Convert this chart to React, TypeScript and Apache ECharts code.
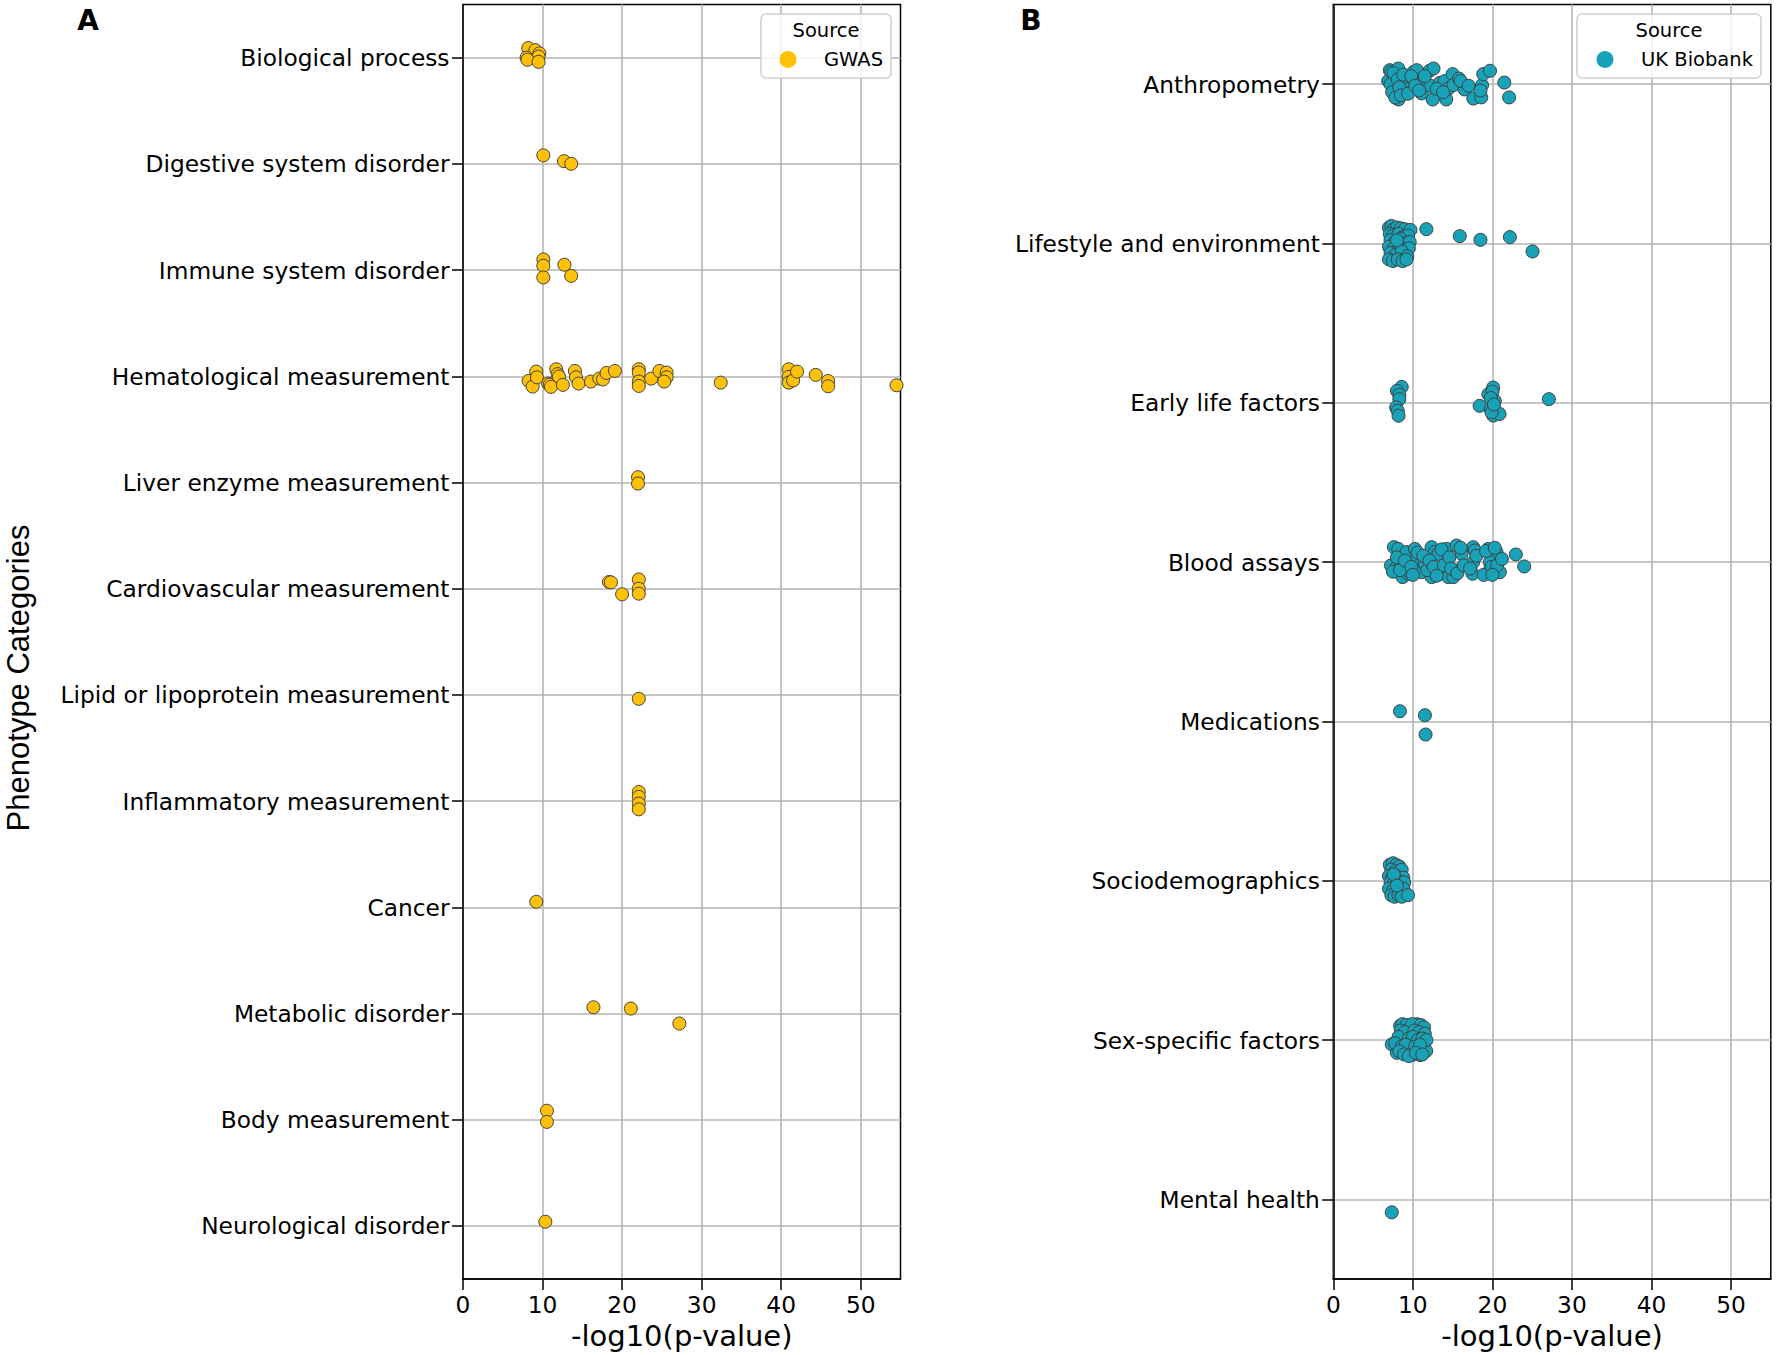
import React, { useEffect, useRef } from "react";
import * as echarts from "echarts";

// ---------- Data ----------
const xTicks = [0, 10, 20, 30, 40, 50];
const gwasName = "GWAS";
const ukbName = "UK Biobank";

const gwasCategories = [
  "Biological process",
  "Digestive system disorder",
  "Immune system disorder",
  "Hematological measurement",
  "Liver enzyme measurement",
  "Cardiovascular measurement",
  "Lipid or lipoprotein measurement",
  "Inflammatory measurement",
  "Cancer",
  "Metabolic disorder",
  "Body measurement",
  "Neurological disorder",
];

// [ -log10(p), vertical jitter within category ]
const biologicalProcess = [[8.2, -0.09], [9.1, -0.07], [9.6, -0.04], [9.5, -0.01], [8.0, 0.0], [8.1, 0.02], [9.5, 0.04]];
const digestiveSystem = [[10.1, -0.08], [12.7, -0.025], [13.6, 0.0]];
const immuneSystem = [[10.1, -0.1], [10.1, -0.04], [10.1, 0.07], [12.75, -0.05], [13.6, 0.055]];
const hematological = [
  [8.25, 0.044], [9.21, -0.044], [8.75, 0.097], [9.3, 0.01], [10.7, 0.069], [10.9, 0.08], [11.06, 0.1],
  [11.72, -0.066], [11.9, -0.02], [12.06, 0.003], [12.56, 0.081], [14.07, -0.05], [14.2, 0.01], [14.53, 0.069],
  [16.08, 0.05], [17.13, 0.022], [17.6, 0.03], [18.05, -0.031], [19.1, -0.05], [22.1, -0.066], [22.1, -0.035],
  [22.1, 0.05], [22.1, 0.091], [23.66, 0.022], [24.7, -0.05], [25.6, -0.035], [25.6, 0.01], [25.3, 0.05],
  [32.4, 0.06], [40.95, -0.066], [40.95, 0.006], [40.95, 0.06], [41.5, 0.04], [42.0, -0.044], [44.35, -0.013],
  [45.9, 0.044], [45.9, 0.094], [54.5, 0.085],
];
const liverEnzyme = [[22.0, -0.05], [22.0, 0.01]];
const cardiovascular = [[18.34, -0.063], [18.6, -0.06], [20.0, 0.053], [22.1, -0.087], [22.1, 0.0], [22.1, 0.047]];
const lipid = [[22.1, 0.037]];
const inflammatory = [[22.1, -0.086], [22.1, -0.04], [22.1, 0.023], [22.1, 0.077]];
const cancer = [[9.21, -0.052]];
const metabolic = [[16.4, -0.059], [21.1, -0.047], [27.2, 0.094]];
const bodyMeasurement = [[10.55, -0.085], [10.55, 0.02]];
const neurological = [[10.35, -0.04]];

const gwasPoints = [
  biologicalProcess, digestiveSystem, immuneSystem, hematological, liverEnzyme, cardiovascular,
  lipid, inflammatory, cancer, metabolic, bodyMeasurement, neurological,
];

const ukbCategories = [
  "Anthropometry",
  "Lifestyle and environment",
  "Early life factors",
  "Blood assays",
  "Medications",
  "Sociodemographics",
  "Sex-specific factors",
  "Mental health",
];

const anthropometry = [
  [6.9, -0.02], [7.1, -0.088], [7.3, -0.077], [7.5, 0.03], [7.75, -0.057], [7.96, -0.046], [8.0, 0.06],
  [8.17, -0.098], [8.2, 0.096], [8.4, -0.025], [8.6, -0.042], [9.0, 0.038], [9.2, -0.02], [9.6, 0.027],
  [10.1, -0.077], [10.5, -0.088], [11.1, -0.01], [11.1, 0.058], [12.1, -0.084], [12.2, 0.01], [12.5, 0.096],
  [12.6, -0.098], [13.4, -0.008], [14.0, -0.019], [14.2, 0.096], [14.5, 0.027], [15.0, -0.063], [15.1, 0.006],
  [15.8, -0.035], [16.5, 0.033], [17.6, 0.09], [18.6, 0.083], [18.7, 0.006], [18.85, -0.063], [19.7, -0.084],
  [21.5, -0.01], [22.1, 0.083], [7.2, 0.0], [7.4, 0.05], [7.6, -0.07], [7.8, 0.085], [8.1, -0.03], [8.3, 0.02],
  [8.5, 0.07], [8.8, -0.06], [9.4, 0.06], [9.8, -0.05], [10.3, 0.01], [10.8, 0.04], [11.5, -0.05], [13.0, 0.03],
  [13.8, 0.05], [16.0, -0.02], [17.0, 0.01], [18.5, 0.04],
];
const lifestyle = [
  [7.0, -0.1], [7.3, -0.11], [7.6, -0.09], [8.0, -0.1], [8.5, -0.095], [9.0, -0.09], [9.7, -0.085],
  [7.1, -0.06], [7.5, -0.05], [8.2, -0.06], [8.8, -0.04], [9.4, -0.05], [7.2, -0.02], [7.8, -0.01],
  [8.4, -0.03], [9.1, 0.0], [9.6, -0.01], [7.0, 0.02], [7.6, 0.03], [8.3, 0.02], [8.9, 0.04], [9.5, 0.03],
  [7.2, 0.06], [7.9, 0.07], [8.6, 0.05], [9.3, 0.08], [7.0, 0.1], [7.5, 0.11], [8.1, 0.1], [8.7, 0.11],
  [9.2, 0.1], [8.0, -0.02], [11.7, -0.09], [15.9, -0.046], [18.5, -0.023], [22.2, -0.04], [25.05, 0.05],
];
const earlyLife = [
  [8.6, -0.1], [8.0, -0.075], [8.3, -0.05], [8.3, -0.023], [7.9, 0.029], [8.1, 0.05], [8.2, 0.081],
  [20.1, -0.096], [19.5, -0.054], [20.0, -0.07], [20.3, -0.013], [19.8, -0.03], [18.4, 0.019], [19.8, 0.04],
  [20.1, 0.08], [20.9, 0.07], [19.9, 0.06], [20.2, 0.01], [27.1, -0.023],
];
const bloodAssays = [
  [7.25, 0.021], [7.62, -0.094], [7.96, 0.031], [8.17, -0.083], [8.59, 0.01], [8.71, 0.094], [9.22, -0.063],
  [9.43, 0.073], [9.63, 0.063], [10.26, -0.083], [10.47, -0.021], [10.89, 0.021], [11.1, 0.063], [11.52, 0.01],
  [12.36, -0.094], [12.36, 0.094], [12.78, -0.063], [13.2, -0.052], [13.4, 0.073], [14.24, -0.083],
  [14.45, 0.094], [15.08, 0.094], [15.29, 0.052], [15.5, -0.104], [16.13, -0.052], [17.51, 0.073],
  [17.59, -0.094], [17.8, -0.073], [17.59, 0.0], [19.47, -0.083], [19.68, 0.052], [19.89, -0.052],
  [20.52, -0.063], [20.94, 0.063], [19.68, 0.0], [22.95, -0.048], [24.0, 0.027], [7.5, 0.06], [8.0, -0.03],
  [8.4, 0.05], [9.0, -0.01], [9.8, 0.03], [10.0, 0.08], [10.6, -0.06], [11.3, -0.04], [11.8, 0.05],
  [12.1, -0.01], [12.6, 0.03], [13.0, 0.085], [13.6, -0.08], [13.9, 0.02], [14.6, -0.03], [14.8, 0.04],
  [15.6, 0.07], [16.0, -0.09], [16.4, 0.02], [17.2, 0.04], [18.0, -0.04], [18.9, 0.08], [19.2, -0.07],
  [19.9, 0.03], [20.3, -0.09], [20.6, 0.02], [21.2, -0.02], [20.0, 0.08],
];
const medications = [[8.38, -0.064], [11.52, -0.039], [11.6, 0.082]];
const sociodemographics = [
  [7.1, -0.1], [7.5, -0.11], [7.9, -0.1], [8.3, -0.09], [7.3, -0.07], [7.8, -0.06], [8.2, -0.05],
  [8.6, -0.07], [7.0, -0.03], [7.4, -0.02], [7.9, -0.03], [8.4, -0.01], [8.8, -0.02], [7.2, 0.01],
  [7.6, 0.02], [8.1, 0.0], [8.5, 0.03], [8.9, 0.01], [7.0, 0.05], [7.5, 0.06], [8.0, 0.05], [8.4, 0.07],
  [8.8, 0.05], [7.3, 0.09], [7.7, 0.1], [8.2, 0.09], [8.6, 0.1], [9.4, 0.09], [7.6, -0.04], [8.0, 0.03],
];
const sexSpecific = [
  [7.35, 0.026], [9.75, -0.055], [9.37, 0.051], [11.43, 0.026], [11.68, 0.068], [10.9, 0.094], [9.87, 0.094],
  [8.4, -0.09], [10.5, -0.1], [8.8, 0.0], [8.0, 0.08], [8.7, -0.1], [9.2, -0.095], [9.9, -0.1], [11.0, -0.095],
  [11.4, -0.08], [8.5, -0.06], [9.0, -0.05], [10.2, -0.06], [10.8, -0.05], [11.5, -0.04], [8.2, -0.02],
  [9.5, -0.01], [10.0, -0.02], [10.6, 0.0], [11.2, -0.01], [11.7, 0.0], [7.8, 0.02], [8.6, 0.04], [9.1, 0.03],
  [10.3, 0.04], [10.9, 0.03], [8.3, 0.07], [8.9, 0.09], [9.5, 0.1], [10.4, 0.08], [11.2, 0.09],
];
const mentalHealth = [[7.35, 0.081]];

const ukbPoints = [
  anthropometry, lifestyle, earlyLife, bloodAssays, medications, sociodemographics, sexSpecific, mentalHealth,
];

// ---------- Styling ----------
const FONT = "DejaVu Sans";
const GWAS_COLOR = "#FFC107";
const UKB_COLOR = "#17A2B8";
const EDGE = "#404040";
const GRID_COLOR = "#b5b5b5";

const toScatter = (groups: number[][][]) =>
  groups.flatMap((pts, i) => pts.map(([v, j]) => [v, i + j]));

function xAxisFor(gridIndex: number) {
  return {
    type: "value",
    gridIndex,
    min: 0,
    max: 55,
    interval: 10,
    name: "-log10(p-value)",
    nameLocation: "middle",
    nameGap: 40,
    nameTextStyle: { fontFamily: FONT, fontSize: 29, color: "#000" },
    axisLine: { show: true, onZero: false, lineStyle: { color: "#000", width: 1.5 } },
    axisTick: { show: true, length: 11, customValues: xTicks, lineStyle: { color: "#000", width: 1.5 } },
    axisLabel: { customValues: xTicks, margin: 14, fontFamily: FONT, fontSize: 23.3, color: "#000" },
    splitLine: { show: true, lineStyle: { color: GRID_COLOR, width: 1.6 } },
  };
}

function catAxisFor(gridIndex: number, data: string[]) {
  return {
    type: "category",
    gridIndex,
    data,
    inverse: true,
    boundaryGap: true,
    axisLine: { show: true, lineStyle: { color: "#000", width: 1.5 } },
    axisTick: { show: true, alignWithLabel: true, length: 11, lineStyle: { color: "#000", width: 1.5 } },
    axisLabel: { margin: 13.5, fontFamily: FONT, fontSize: 23.3, color: "#000", interval: 0 },
    splitLine: { show: true, alignWithLabel: true, interval: 0, lineStyle: { color: GRID_COLOR, width: 1.6 } },
  };
}

function valAxisFor(gridIndex: number, n: number) {
  return {
    type: "value",
    gridIndex,
    min: -0.5,
    max: n - 0.5,
    inverse: true,
    show: false,
    splitLine: { show: false },
  };
}

function legendBox(x: number, w: number) {
  return {
    type: "rect",
    z: 10,
    shape: { x, y: 14, width: w, height: 64, r: 5 },
    style: { fill: "rgba(255,255,255,0.8)", stroke: "#d0d0d0", lineWidth: 1.5 },
  };
}

function legendFor(name: string, left: number) {
  return {
    data: [name],
    left,
    top: 49.5,
    padding: 0,
    itemWidth: 62,
    itemHeight: 17,
    icon: "circle",
    z: 12,
    itemStyle: { borderWidth: 0 },
    textStyle: { fontFamily: FONT, fontSize: 19.5, color: "#000", lineHeight: 17 },
  };
}

export default function App() {
  const ref = useRef<HTMLDivElement>(null);

  useEffect(() => {
    if (!ref.current) return;
    const chart = echarts.init(ref.current, undefined, { renderer: "svg" });

    const option: any = {
      animation: false,
      backgroundColor: "#fff",
      textStyle: { fontFamily: FONT },
      grid: [
        { left: 463, top: 4.5, width: 437.5, height: 1278, show: true, borderColor: "#000", borderWidth: 1.5, backgroundColor: "transparent" },
        { left: 1333.3, top: 4.5, width: 437.5, height: 1278, show: true, borderColor: "#000", borderWidth: 1.5, backgroundColor: "transparent" },
      ],
      xAxis: [xAxisFor(0), xAxisFor(1)],
      yAxis: [
        catAxisFor(0, gwasCategories),
        valAxisFor(0, gwasCategories.length),
        catAxisFor(1, ukbCategories),
        valAxisFor(1, ukbCategories.length),
      ],
      legend: [legendFor(gwasName, 779.5), legendFor(ukbName, 1596.5)],
      graphic: [
        legendBox(761, 130),
        legendBox(1577, 184),
        {
          type: "text", z: 12, x: 826, y: 30,
          style: { text: "Source", fontFamily: FONT, fontSize: 19.5, fill: "#000", textAlign: "center", textVerticalAlign: "middle" },
        },
        {
          type: "text", z: 12, x: 1669, y: 30,
          style: { text: "Source", fontFamily: FONT, fontSize: 19.5, fill: "#000", textAlign: "center", textVerticalAlign: "middle" },
        },
        {
          type: "text", x: 88, y: 20,
          style: { text: "A", fontFamily: FONT, fontWeight: "bold", fontSize: 28, fill: "#000", textAlign: "center", textVerticalAlign: "middle" },
        },
        {
          type: "text", x: 1031, y: 20,
          style: { text: "B", fontFamily: FONT, fontWeight: "bold", fontSize: 28, fill: "#000", textAlign: "center", textVerticalAlign: "middle" },
        },
        {
          type: "text", x: 18.5, y: 678, rotation: Math.PI / 2,
          style: { text: "Phenotype Categories", fontFamily: "Liberation Sans", fontSize: 31, fill: "#000", textAlign: "center", textVerticalAlign: "middle" },
        },
      ],
      series: [
        {
          name: gwasName,
          type: "scatter",
          xAxisIndex: 0,
          yAxisIndex: 1,
          symbol: "circle",
          symbolSize: 13,
          itemStyle: { color: GWAS_COLOR, borderColor: EDGE, borderWidth: 1, opacity: 1 },
          data: toScatter(gwasPoints),
        },
        {
          name: ukbName,
          type: "scatter",
          xAxisIndex: 1,
          yAxisIndex: 3,
          symbol: "circle",
          symbolSize: 13,
          itemStyle: { color: UKB_COLOR, borderColor: EDGE, borderWidth: 1, opacity: 1 },
          data: toScatter(ukbPoints),
        },
      ],
    };

    chart.setOption(option);
    return () => chart.dispose();
  }, []);

  return (
    <div
      ref={ref}
      style={{ position: "absolute", left: 0, top: 0, width: 1776, height: 1355, background: "#fff" }}
    />
  );
}
